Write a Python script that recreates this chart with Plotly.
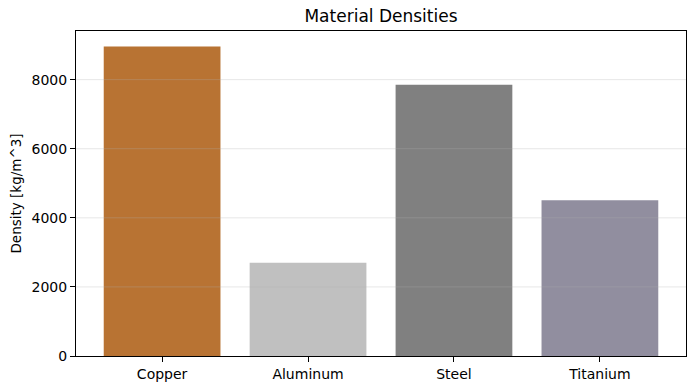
import plotly.graph_objects as go

materials = ["Copper", "Aluminum", "Steel", "Titanium"]
densities = [8960, 2700, 7850, 4507]
colors = ["#b87333", "#c0c0c0", "#808080", "#918e9f"]
yticks = [0, 2000, 4000, 6000, 8000]

fig = go.Figure(go.Bar(x=list(range(len(materials))), y=densities,
                       marker=dict(color=colors, line=dict(width=0)), width=0.8))

font = "DejaVu Sans"
fig.update_layout(
    width=690, height=390,
    margin=dict(l=76, r=4, t=31, b=34),
    paper_bgcolor="white", plot_bgcolor="white",
    showlegend=False,
    font=dict(family=font, size=14, color="black"),
    title=dict(text="Material Densities", x=0.5, xref="paper", xanchor="center",
               y=1, yref="container", yanchor="top", pad=dict(t=10),
               font=dict(family=font, size=17, color="black")),
)
fig.update_xaxes(range=[-0.59, 3.59], tickmode="array",
                 tickvals=list(range(len(materials))), ticktext=materials,
                 showgrid=False, showline=True, linecolor="black", linewidth=1,
                 mirror=True, ticks="outside", ticklen=5, tickcolor="black",
                 zeroline=False)
fig.update_yaxes(range=[0, 9408], tickmode="array", tickvals=yticks,
                 ticktext=[str(v) for v in yticks],
                 showgrid=False, showline=True, linecolor="black", linewidth=1,
                 mirror=True, ticks="outside", ticklen=5, tickcolor="black",
                 zeroline=False,
                 title=dict(text="Density [kg/m^3]", standoff=6,
                            font=dict(family=font, size=13.5)))
for v in yticks[1:]:
    fig.add_shape(type="line", xref="paper", x0=0, x1=1, yref="y", y0=v, y1=v,
                  line=dict(color="rgba(176,176,176,0.3)", width=1), layer="above")

fig.write_html("out.html")
